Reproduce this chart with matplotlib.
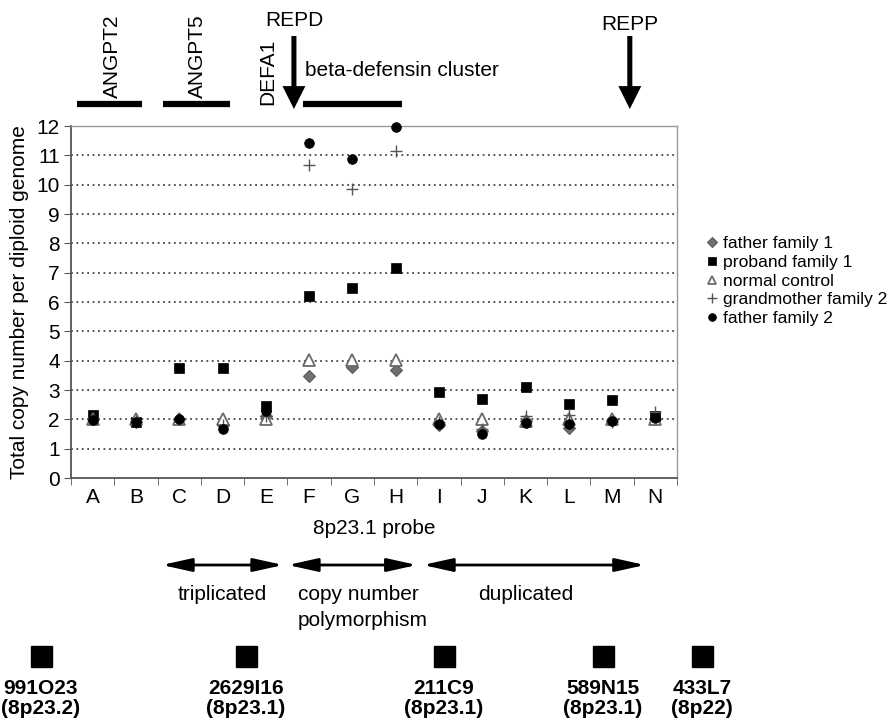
import matplotlib
matplotlib.use('Agg')
import matplotlib.pyplot as plt
import matplotlib.transforms as mtransforms
from matplotlib.patches import Rectangle, FancyArrowPatch
import numpy as np

# probes along 8p23.1
probes = list('ABCDEFGHIJKLMN')

# copy numbers
father_f1 = [2.0, 1.9, 2.0, 1.8, 2.1, 3.48, 3.8, 3.67, 1.8, 1.6, 1.95, 1.7, 1.97, 2.0]
proband_f1 = [2.15, 1.9, 3.76, 3.76, 2.44, 6.2, 6.48, 7.17, 2.93, 2.7, 3.1, 2.51, 2.65, 2.1]
normal_ctrl = [2.0, 2.0, 2.02, 2.0, 2.0, 4.03, 4.03, 4.03, 2.0, 2.0, 1.95, 2.0, 2.0, 2.0]
grandmother_f2 = [2.05, 1.95, 2.0, 1.8, 2.1, 10.66, 9.86, 11.14, 1.9, 1.68, 2.1, 2.14, 1.9, 2.25]
father_f2 = [1.98, 1.9, 2.0, 1.68, 2.3, 11.42, 10.89, 11.97, 1.85, 1.51, 1.88, 1.85, 1.95, 2.05]

# gene annotations above the plot (probe index span)
genes = ['ANGPT2', 'ANGPT5', 'beta-defensin cluster']
gene_spans = [(-0.36, 1.14), (1.62, 3.17), (4.86, 7.14)]

# regions below the plot
regions = ['triplicated', 'copy number', 'duplicated']
region_spans = [(1.6, 4.4), (4.51, 7.49), (7.63, 12.76)]

# BAC clones at the bottom
clones = ['991O23', '2629I16', '211C9', '589N15', '433L7']
bands = ['(8p23.2)', '(8p23.1)', '(8p23.1)', '(8p23.1)', '(8p22)']
clone_px = [41, 246, 444, 603, 702]

W, H = 893, 721
plt.rcParams['font.family'] = ['Liberation Sans', 'DejaVu Sans']

def fy(py):
    return 1 - py / H

fig = plt.figure(figsize=(W / 100, H / 100), dpi=100)
ax = fig.add_axes([71 / W, fy(478), (677 - 71) / W, (478 - 126) / H])

x = np.arange(len(probes))
styles = [
    ('father family 1', father_f1, dict(marker='D', ms=6, mfc='#707070', mec='#5a5a5a', mew=0.8)),
    ('proband family 1', proband_f1, dict(marker='s', ms=7.5, mfc='black', mec='black', mew=0.5)),
    ('normal control', normal_ctrl, dict(marker='^', ms=8, mfc='white', mec='#6a6a6a', mew=1.3)),
    ('grandmother family 2', grandmother_f2, dict(marker='+', ms=8.5, mfc='none', mec='#555555', mew=1.0)),
    ('father family 2', father_f2, dict(marker='o', ms=7, mfc='black', mec='black', mew=0.5)),
]
for lab, vals, st in styles:
    ax.plot(x, vals, linestyle='none', label=lab, clip_on=False, zorder=3, **st)

ax.set_xlim(-0.5, 13.5)
ax.set_ylim(0, 12)
ax.set_yticks(range(13))
ax.set_xticks(x)
ax.set_xticklabels(probes)
ax.set_xticks(np.arange(-0.5, 14), minor=True)
ax.tick_params(axis='x', which='major', length=0, pad=7, labelsize=15)
ax.tick_params(axis='x', which='minor', length=5, direction='out', color='#555555')
ax.tick_params(axis='y', length=5, direction='out', pad=3, labelsize=15, color='#555555')

for v in range(1, 12):
    ax.axhline(v, color='#444444', lw=1.3, ls=(0, (1, 2)), zorder=1)

for s in ['left', 'bottom']:
    ax.spines[s].set_color('#555555')
    ax.spines[s].set_linewidth(1.3)
for s in ['top', 'right']:
    ax.spines[s].set_color('#999999')
    ax.spines[s].set_linewidth(1.0)

fig.text(20 / W, fy(302), 'Total copy number per diploid genome', rotation=90,
         ha='center', va='center', fontsize=15)

tr = mtransforms.blended_transform_factory(ax.transData, fig.transFigure)
ax.text(0.5, fy(528), '8p23.1 probe', transform=mtransforms.blended_transform_factory(ax.transAxes, fig.transFigure),
        ha='center', va='center', fontsize=15)

# gene bars and labels
for (a, b) in gene_spans:
    ax.plot([a, b], [fy(104), fy(104)], transform=tr, color='black', lw=4.5,
            solid_capstyle='butt', clip_on=False)
ax.text(0.45, fy(98), genes[0], transform=tr, rotation=90, ha='center', va='bottom', fontsize=15)
ax.text(2.41, fy(98), genes[1], transform=tr, rotation=90, ha='center', va='bottom', fontsize=15)
ax.text(4.05, fy(105), 'DEFA1', transform=tr, rotation=90, ha='center', va='bottom', fontsize=15)
ax.text(4.9, fy(70), genes[2], transform=tr, ha='left', va='center', fontsize=15)

# REPD / REPP arrows
for xa, name, ty in [(4.65, 'REPD', 20), (12.41, 'REPP', 24)]:
    ax.text(xa, fy(ty), name, transform=tr, ha='center', va='center', fontsize=15)
    fig.add_artist(FancyArrowPatch((xa, fy(36)), (xa, fy(109)), transform=tr,
                                   arrowstyle='simple,head_length=0.5,head_width=0.5,tail_width=0.11',
                                   mutation_scale=33, color='black', lw=0,
                                   shrinkA=0, shrinkB=0))

# region arrows below the plot
for (a, b) in region_spans:
    fig.add_artist(FancyArrowPatch((a, fy(565)), (b, fy(565)), transform=tr,
                                   arrowstyle='<|-|>,head_length=1.8,head_width=0.4',
                                   mutation_scale=10, color='black', lw=2,
                                   shrinkA=0, shrinkB=0))
ax.text(3.0, fy(595), 'triplicated', transform=tr, ha='center', va='center', fontsize=15)
ax.text(4.74, fy(595), 'copy number', transform=tr, ha='left', va='center', fontsize=15)
ax.text(4.74, fy(620), 'polymorphism', transform=tr, ha='left', va='center', fontsize=15)
ax.text(10.0, fy(595), 'duplicated', transform=tr, ha='center', va='center', fontsize=15)

# clones
for cx, nm, bd in zip(clone_px, clones, bands):
    fig.add_artist(Rectangle(((cx - 10) / W, fy(667)), 21 / W, 21 / H,
                             transform=fig.transFigure, color='black'))
    fig.text(cx / W, fy(688), nm, ha='center', va='center', fontsize=15, fontweight='bold')
    fig.text(cx / W, fy(708), bd, ha='center', va='center', fontsize=15, fontweight='bold')

h, l = ax.get_legend_handles_labels()
fig.legend(h, l, loc='center left', bbox_to_anchor=(705 / W, fy(281)), frameon=False,
           fontsize=12.6, handlelength=0.8, handletextpad=0.25, labelspacing=0.2,
           borderpad=0, borderaxespad=0, markerscale=0.8)

fig.savefig('out.png', dpi=100)
